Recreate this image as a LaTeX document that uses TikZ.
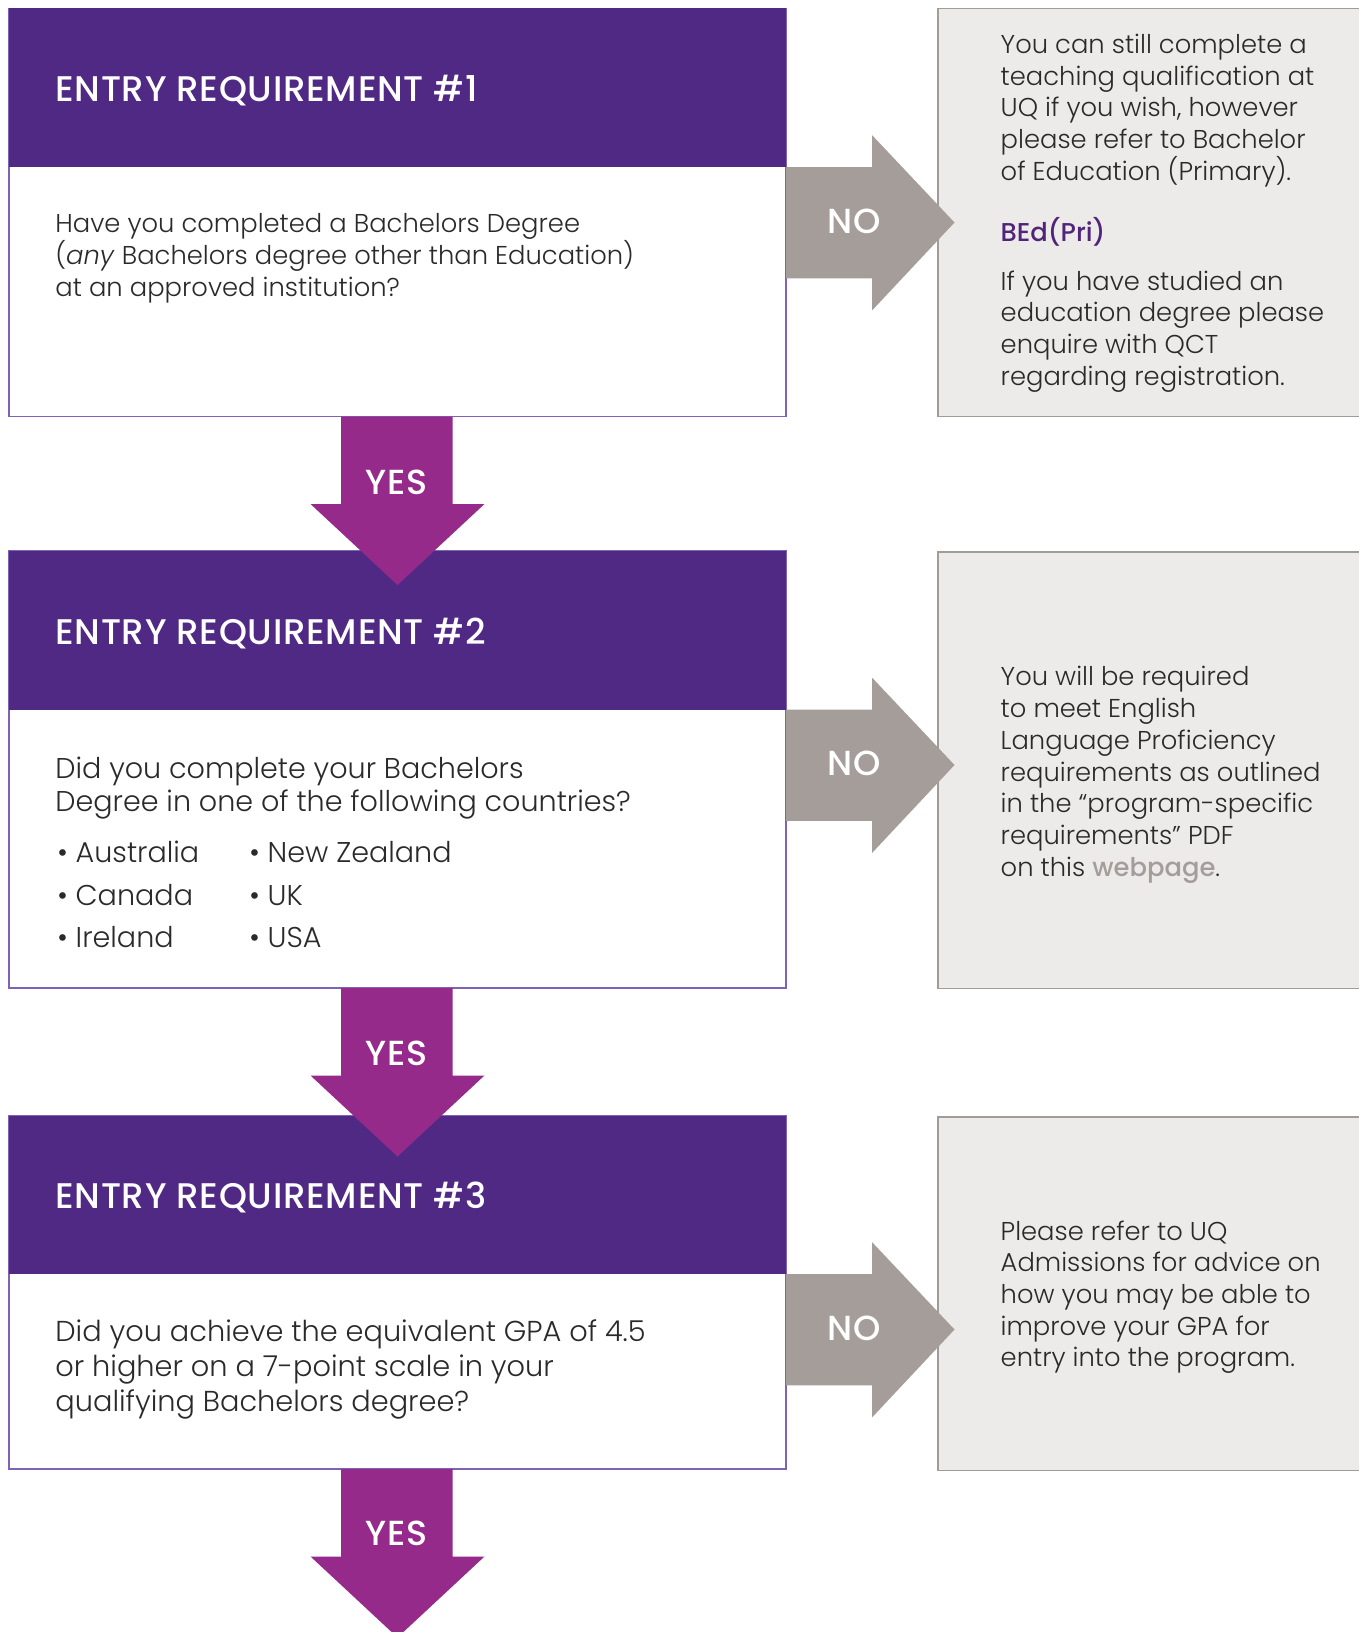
\documentclass[tikz,border=0pt]{standalone}
\usepackage{fontspec}
\setmainfont{Poppins}[UprightFont=* Light, ItalicFont=* Light Italic, BoldFont=* Medium]
\usetikzlibrary{calc}
\definecolor{uqpurple}{HTML}{4F2984}
\definecolor{boxline}{HTML}{7E62B3}
\definecolor{yescol}{HTML}{962A8B}
\definecolor{nocol}{HTML}{A59D99}
\definecolor{grayfill}{HTML}{EDEBE9}
\definecolor{grayline}{HTML}{A29C99}
\definecolor{txt}{HTML}{2A2A2A}
\definecolor{bedcol}{HTML}{51247A}
\tikzset{
  x=0.5pt, y=-0.5pt,
  header/.style={fill=uqpurple},
  qbox/.style={draw=boxline, line width=0.75pt, fill=white},
  gbox/.style={draw=grayline, line width=0.75pt, fill=grayfill},
  yesarrow/.style={fill=yescol},
  noarrow/.style={fill=nocol},
  title/.style={anchor=base west, inner sep=0pt, text=white, font=\fontsize{17.8}{20}\selectfont\bfseries\addfontfeature{LetterSpace=2}},
  lbl/.style={anchor=base, inner sep=0pt, text=white, font=\fontsize{17.4}{18}\selectfont\bfseries\addfontfeature{LetterSpace=3}},
  body/.style={anchor=base west, inner sep=0pt, text=txt, align=left},
}
\begin{document}
\begin{tikzpicture}
\path[use as bounding box] (0,0) rectangle (1359,1632);
\clip (0,0) rectangle (1359,1632);
\fill[white] (0,0) rectangle (1359,1632);

% ---------- question boxes ----------
\path (9,8.5) coordinate (b1nw) (786,416.5) coordinate (b1se) (786,167) coordinate (b1h);
\path (9,551) coordinate (b2nw) (786,988) coordinate (b2se) (786,709.5) coordinate (b2h);
\path (9,1115.5) coordinate (b3nw) (786,1469) coordinate (b3se) (786,1274) coordinate (b3h);

\foreach \b in {1,2,3}{
  \draw[qbox] (b\b nw) rectangle (b\b se);
  \fill[header] (b\b nw) rectangle (b\b h);
}

% ---------- gray answer boxes ----------
\path (938,8.5) coordinate (g1nw) (1375,416.5) coordinate (g1se);
\path (938,552) coordinate (g2nw) (1375,988.5) coordinate (g2se);
\path (938,1117) coordinate (g3nw) (1375,1470.5) coordinate (g3se);
\foreach \g in {1,2,3}{
  \draw[gbox] (g\g nw) rectangle (g\g se);
}

% ---------- NO arrows ----------
\foreach \b in {1,2,3}{
  \fill[noarrow] (b\b h)
    -- ++(86.2,0) -- ++(0,-31.7) -- ++(82.3,87.2) -- ++(-82.3,87.8)
    -- ++(0,-32) -- ++(-86.2,0) -- cycle;
}

% ---------- YES arrows ----------
\foreach \b/\y in {1/416.5,2/988,3/1469}{
  \fill[yesarrow] (341,\y) -- (452.5,\y) -- (452.5,\y+87.5) -- (484.5,\y+87.5)
    -- (397.5,\y+168.5) -- (310.5,\y+87.5) -- (341,\y+87.5) -- cycle;
}

% ---------- titles ----------
\node[title] (t1) at (55,101.7) {ENTRY REQUIREMENT \#1};
\node[title] (t2) at (55,644) {ENTRY REQUIREMENT \#2};
\node[title] (t3) at (55,1208.5) {ENTRY REQUIREMENT \#3};

% ---------- labels ----------
\node[lbl] (y1) at (396.5,494) {YES};
\node[lbl] (y2) at (396.5,1065.5) {YES};
\node[lbl] (y3) at (396.5,1545) {YES};
\node[lbl] (n1) at (854.5,233.3) {NO};
\node[lbl] (n2) at (854.5,775.8) {NO};
\node[lbl] (n3) at (854.5,1340.3) {NO};

% ---------- question texts (base = last line) ----------
\node[body, font=\fontsize{12.9}{16}\selectfont] (q1) at (55,296.7)
  {Have you completed a Bachelors Degree\\(\textit{any} Bachelors degree other than Education)\\at an approved institution?};
\node[body, font=\fontsize{14.3}{16.7}\selectfont] (q2) at (55,811.9)
  {Did you complete your Bachelors\\Degree in one of the following countries?};
\node[body, font=\fontsize{14.3}{21.35}\selectfont] (c1) at (57,947.9)
  {• Australia\\• Canada\\• Ireland};
\node[body, font=\fontsize{14.3}{21.35}\selectfont] (c2) at (249,947.9)
  {• New Zealand\\• UK\\• USA};
\node[body, font=\fontsize{14.4}{17.5}\selectfont] (q3) at (55,1411.4)
  {Did you achieve the equivalent GPA of 4.5\\or higher on a 7-point scale in your\\qualifying Bachelors degree?};

% ---------- answer texts ----------
\node[body, font=\fontsize{12.9}{15.85}\selectfont] (a1a) at (1000.3,180.1)
  {You can still complete a\\teaching qualification at\\UQ if you wish, however\\please refer to Bachelor\\of Education (Primary).};
\node[body, font=\fontsize{12.9}{15.85}\selectfont\bfseries, text=bedcol] (a1b) at (1000.3,241.7) {BEd(Pri)};
\node[body, font=\fontsize{12.9}{15.85}\selectfont] (a1c) at (1000.3,385.1)
  {If you have studied an\\education degree please\\enquire with QCT\\regarding registration.};
\node[body, font=\fontsize{12.9}{15.9}\selectfont] (a2) at (1000.3,876.5)
  {You will be required\\to meet English\\Language Proficiency\\requirements as outlined\\in the “program-specific\\requirements” PDF\\on this {\bfseries\color{nocol}webpage}.};
\node[body, font=\fontsize{12.9}{15.85}\selectfont] (a3) at (1000.3,1366.8)
  {Please refer to UQ\\Admissions for advice on\\how you may be able to\\improve your GPA for\\entry into the program.};
\end{tikzpicture}
\end{document}
